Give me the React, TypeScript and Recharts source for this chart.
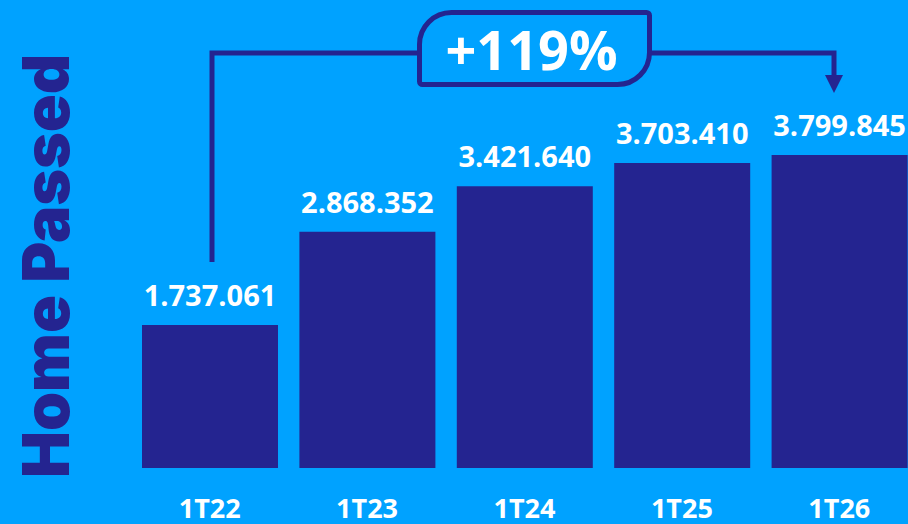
import React from "react";
import { BarChart, Bar, XAxis, YAxis, LabelList } from "recharts";

const quarters = ["1T22", "1T23", "1T24", "1T25", "1T26"];
const homePassed = [1737061, 2868352, 3421640, 3703410, 3799845];

const data = quarters.map((q, i) => ({ quarter: q, value: homePassed[i] }));

const BG = "#00A2FF";
const NAVY = "#242490";
const FONT = "'Open Sans', 'Noto Sans', sans-serif";

const fmt = (v: number) => String(v).replace(/\B(?=(\d{3})+(?!\d))/g, ".");

const growth = Math.round(
  (homePassed[homePassed.length - 1] / homePassed[0] - 1) * 100
);

const App: React.FC = () => {
  return (
    <div
      style={{
        position: "relative",
        width: 908,
        height: 524,
        overflow: "hidden",
        background: BG,
      }}
    >
      <style>{`body{margin:0}`}</style>
      <BarChart
        width={918}
        height={524}
        data={data}
        margin={{ top: 155, right: 0, bottom: 0, left: 131 }}
        barSize={136}
      >
        <XAxis
          dataKey="quarter"
          height={56}
          axisLine={false}
          tickLine={false}
          tickSize={0}
          tickMargin={31}
          tick={{ fill: "#fff", fontSize: 27, fontWeight: 700, fontFamily: FONT }}
        />
        <YAxis hide domain={[0, "dataMax"]} />
        <Bar dataKey="value" fill={NAVY} isAnimationActive={false}>
          <LabelList
            dataKey="value"
            position="top"
            offset={19}
            formatter={(v: any) => fmt(Number(v))}
            style={{ fill: "#fff", fontSize: 29, fontWeight: 700, fontFamily: FONT }}
          />
        </Bar>
      </BarChart>
      <svg
        width={908}
        height={524}
        style={{ position: "absolute", left: 0, top: 0, pointerEvents: "none" }}
      >
        <text
          transform="translate(69, 266) rotate(-90)"
          textAnchor="middle"
          fill={NAVY}
          fontSize={64}
          fontWeight={900}
          fontFamily="Inter, sans-serif"
          textLength={424}
          lengthAdjust="spacingAndGlyphs"
        >
          Home Passed
        </text>
        <path
          d="M212,262 V53 H419 M650,53 H834 V76"
          fill="none"
          stroke={NAVY}
          strokeWidth={5}
        />
        <polygon points="825,75 843,75 834,93" fill={NAVY} />
        <path
          d="M419.5,44.5 A32 32 0 0 1 451.5,12.5 L646.5,12.5 A3 3 0 0 1 649.5,15.5 L649.5,52.5 A32 32 0 0 1 617.5,84.5 L422.5,84.5 A3 3 0 0 1 419.5,81.5 Z"
          fill={BG}
          stroke={NAVY}
          strokeWidth={5}
        />
        <text
          x={531.5}
          y={70}
          textAnchor="middle"
          fill="#fff"
          fontSize={54}
          fontWeight={700}
          fontFamily={FONT}
        >
          {`+${growth}%`}
        </text>
      </svg>
    </div>
  );
};

export default App;
